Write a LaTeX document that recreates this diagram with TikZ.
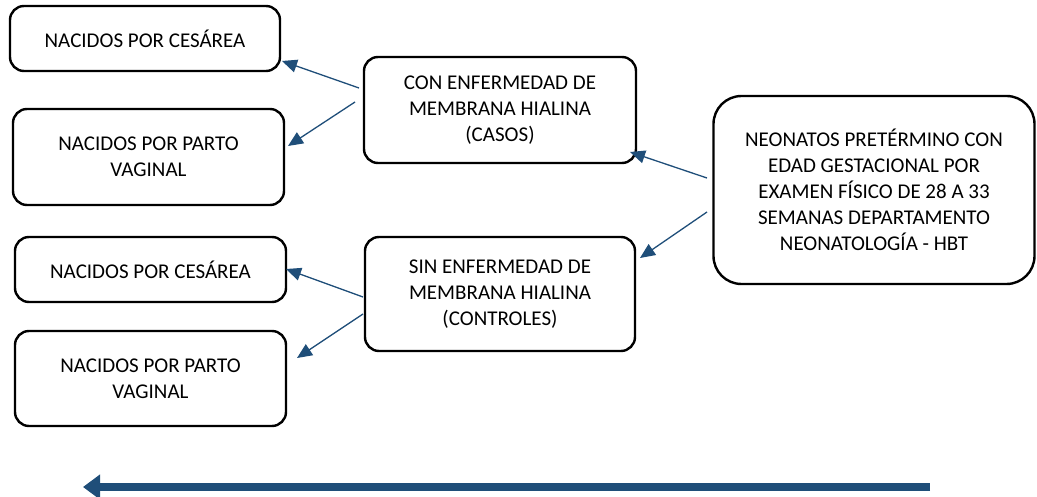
\documentclass[tikz,border=0pt]{standalone}
\usepackage{fontspec}
\setmainfont{Carlito}
\usetikzlibrary{arrows.meta}
\definecolor{arrowblue}{RGB}{31,78,121}
\begin{document}
\begin{tikzpicture}[x=1pt,y=-1pt,
  box/.style={draw=black,line width=2.4pt,rounded corners=14pt,align=center,
    inner sep=0pt,font=\fontsize{21}{26}\selectfont},
  conn/.style={draw=arrowblue,line width=1.3pt,-{Triangle[length=15pt,width=13pt]}},
  bigarrow/.style={draw=arrowblue,line width=8pt,-{Triangle[length=17pt,width=24pt]}}]
\useasboundingbox (0,0) rectangle (1037,497);
\node[box,minimum width=270pt,minimum height=65pt] (a1) at (145,38.5) {NACIDOS POR CESÁREA};
\node[box,minimum width=271pt,minimum height=96pt] (a2) at (148.5,157) {NACIDOS POR PARTO\\VAGINAL};
\node[box,minimum width=272pt,minimum height=106pt] (b1) at (500,110) {CON ENFERMEDAD DE\\MEMBRANA HIALINA\\(CASOS)};
\node[box,minimum width=321pt,minimum height=188pt,rounded corners=28pt] (c) at (874,190) {NEONATOS PRETÉRMINO CON\\EDAD GESTACIONAL POR\\EXAMEN FÍSICO DE 28 A 33\\SEMANAS DEPARTAMENTO\\NEONATOLOGÍA - HBT};
\node[box,minimum width=270pt,minimum height=114pt] (b2) at (500,294) {SIN ENFERMEDAD DE\\MEMBRANA HIALINA\\(CONTROLES)};
\node[box,minimum width=271pt,minimum height=65pt] (a3) at (150.5,269.5) {NACIDOS POR CESÁREA};
\node[box,minimum width=271pt,minimum height=95pt] (a4) at (150.5,378.5) {NACIDOS POR PARTO\\VAGINAL};
% connector end points
\coordinate (s1) at (359,88);   \coordinate (t1) at (282,61);
\coordinate (s2) at (355,102);  \coordinate (t2) at (288,146);
\coordinate (s3) at (707,178);  \coordinate (t3) at (630,152);
\coordinate (s4) at (707,212);  \coordinate (t4) at (640,258);
\coordinate (s5) at (363,297);  \coordinate (t5) at (286,269);
\coordinate (s6) at (363,314);  \coordinate (t6) at (297,358);
\coordinate (bs) at (930,487);  \coordinate (be) at (83,487);
\draw[conn] (s1) -- (t1);
\draw[conn] (s2) -- (t2);
\draw[conn] (s3) -- (t3);
\draw[conn] (s4) -- (t4);
\draw[conn] (s5) -- (t5);
\draw[conn] (s6) -- (t6);
\draw[bigarrow] (bs) -- (be);
\end{tikzpicture}
\end{document}
